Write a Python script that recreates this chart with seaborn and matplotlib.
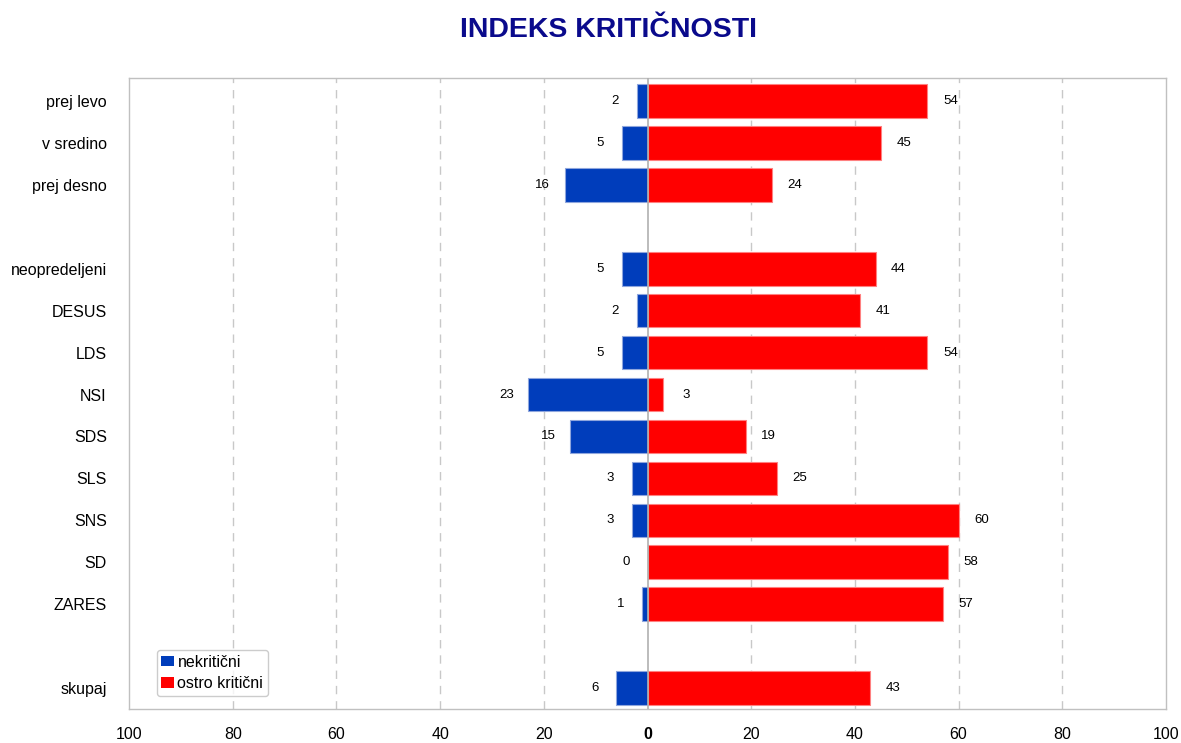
import matplotlib
matplotlib.use("Agg")
import matplotlib.pyplot as plt
import seaborn as sns
import pandas as pd
import numpy as np

categories = ["prej levo", "v sredino", "prej desno", " ", "neopredeljeni", "DESUS", "LDS",
              "NSI", "SDS", "SLS", "SNS", "SD", "ZARES", "  ", "skupaj"]
nekriticni = [2, 5, 16, None, 5, 2, 5, 23, 15, 3, 3, 0, 1, None, 6]
ostro_kriticni = [54, 45, 24, None, 44, 41, 54, 3, 19, 25, 60, 58, 57, None, 43]
series_names = ["nekritični", "ostro kritični"]
xticks = [-100, -80, -60, -40, -20, 0, 20, 40, 60, 80, 100]
xtick_labels = ["100", "80", "60", "40", "20", "0", "20", "40", "60", "80", "100"]

sns.set_style("white")
plt.rcParams['font.family'] = ['Liberation Sans', 'DejaVu Sans']
plt.rcParams['text.color'] = 'black'
plt.rcParams['xtick.color'] = 'black'
plt.rcParams['ytick.color'] = 'black'

rows = []
for c, n, o in zip(categories, nekriticni, ostro_kriticni):
    if n is not None:
        rows.append({"cat": c, "series": series_names[0], "value": -n})
    if o is not None:
        rows.append({"cat": c, "series": series_names[1], "value": o})
df = pd.DataFrame(rows)

fig = plt.figure(figsize=(11.81, 7.43), dpi=100)
ax = fig.add_axes([129/1181, 1 - 709/743, (1166-129)/1181, (709-78)/743])

palette = {series_names[0]: "#003DBB", series_names[1]: "#FF0000"}
sns.barplot(data=df, x="value", y="cat", hue="series", order=categories,
            hue_order=series_names, palette=palette, dodge=False, orient="h",
            width=0.8, errorbar=None, saturation=1, linewidth=0.8, ax=ax, zorder=3)
for bars, ec in zip(ax.containers, ["#8fa6dd", "#ff8080"]):
    for b in bars:
        b.set_edgecolor(ec)

ax.set_xlim(-100, 100)
ax.set_ylim(len(categories) - 0.5, -0.55)
ax.set_xticks(xticks)
ax.set_xticklabels(xtick_labels, fontsize=11.5)
for lbl in ax.get_xticklabels():
    if lbl.get_text() == "0":
        lbl.set_fontweight("bold")
ax.tick_params(axis="y", labelsize=11.5, length=0, pad=16)
ax.tick_params(axis="x", length=0, pad=13)
ax.set_xlabel("")
ax.set_ylabel("")

for x in [-80, -60, -40, -20, 20, 40, 60, 80]:
    ax.axvline(x, color="#c8c8c8", linestyle=(0, (6, 5)), linewidth=1, zorder=1)
ax.axvline(0, color="#b0b0b0", linewidth=1.2, zorder=4)

for sp in ax.spines.values():
    sp.set_color("#c0c0c0")
    sp.set_linewidth(1)

for i, (n, o) in enumerate(zip(nekriticni, ostro_kriticni)):
    if n is not None:
        ax.text(-n - 4.2, i, f"{n}", ha="center", va="center", fontsize=9.5, color="black", zorder=5)
    if o is not None:
        ax.text(o + 4.4, i, f"{o}", ha="center", va="center", fontsize=9.5, color="black", zorder=5)

leg = ax.legend(loc="lower left", bbox_to_anchor=(0.019, 0.008), fontsize=11.5, frameon=True,
                handlelength=0.8, handleheight=0.6, handletextpad=0.2, borderpad=0.3,
                labelspacing=0.4, fancybox=True)
leg.get_frame().set_edgecolor("#c0c0c0")
for h in leg.legend_handles:
    h.set_edgecolor("none")

fig.text(609/1181, 1 - 30/743, "INDEKS KRITIČNOSTI", ha="center", va="center",
         fontsize=20.5, fontweight="bold", color="#0A0A8C")

fig.savefig("out.png", dpi=100)
